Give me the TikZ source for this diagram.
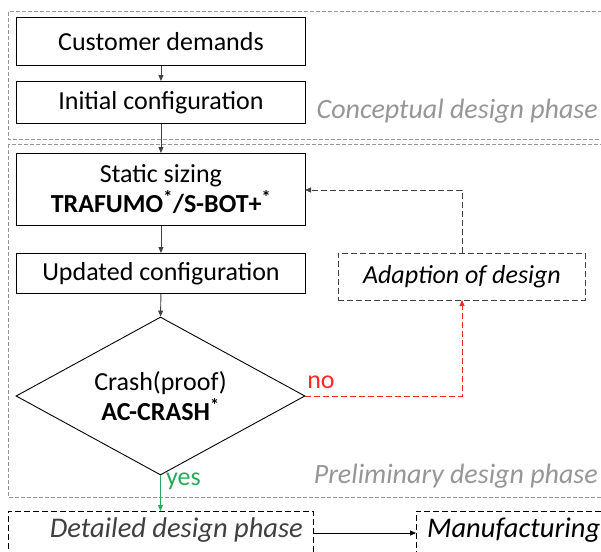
\documentclass[tikz,border=0pt]{standalone}
\usepackage{fontspec}
\setmainfont{Carlito}
\usetikzlibrary{arrows.meta,shapes.geometric}
\definecolor{phasegray}{RGB}{150,150,150}
\definecolor{darkgray2}{RGB}{64,64,64}
\definecolor{nored}{RGB}{255,40,40}
\definecolor{yesgreen}{RGB}{40,170,90}
\tikzset{
  x=1pt,y=-1pt,
  mainfont/.style={font=\fontsize{26}{30}\selectfont},
  box/.style={draw,line width=0.9pt,minimum width=289pt,anchor=north west,inner sep=0pt,align=center,mainfont},
  phase/.style={draw=phasegray,line width=1pt,dash pattern=on 4pt off 2pt},
  phaselabel/.style={text=phasegray,font=\fontsize{28}{30}\selectfont\itshape,anchor=east,inner sep=0pt},
  dbox/.style={draw,line width=0.9pt,dash pattern=on 6pt off 3pt},
  arr/.style={line width=0.9pt,draw=darkgray2,-{Triangle[length=6pt,width=5pt]}},
}
\begin{document}
\begin{tikzpicture}
\clip (0,0) rectangle (601,551);
\useasboundingbox (0,0) rectangle (601,551);
% phases
\draw[phase] (8,12) rectangle (640,139);
\node[phaselabel] (cdp) at (598,111) {Conceptual design phase};
\draw[phase] (8,144) rectangle (640,497);
\node[phaselabel] (pdp) at (598,476) {Preliminary design phase};
% boxes
\node[box,minimum height=48pt] (cust) at (16,17) {Customer demands};
\node[box,minimum height=42pt] (init) at (16,81) {Initial configuration};
\node[box,minimum height=72pt] (stat) at (16,153) {Static sizing\\\textbf{TRAFUMO\textsuperscript{*}/S-BOT+\textsuperscript{*}}};
\node[box,minimum height=40pt] (upd) at (16,253) {Updated configuration};
\node[dbox,draw=darkgray2,minimum width=247pt,minimum height=47pt,anchor=north west,inner sep=0pt,font=\fontsize{26}{30}\selectfont\itshape] (adap) at (338,253) {Adaption of design};
\node[draw,line width=0.9pt,diamond,minimum width=289pt,minimum height=158pt,inner sep=0pt,aspect=1.83,align=center,mainfont] (crash) at (160.5,396) {Crash(proof)\\\textbf{AC-CRASH\textsuperscript{*}}};
% bottom boxes
\node[dbox,minimum width=305pt,minimum height=60pt,anchor=north west,inner sep=0pt] (det) at (8,511) {};
\node[text=darkgray2,font=\fontsize{28.5}{30}\selectfont\itshape,anchor=east,inner sep=0pt] (detl) at (303,530) {Detailed design phase};
\node[dbox,minimum width=220pt,minimum height=60pt,anchor=north west,inner sep=0pt] (man) at (416,511) {};
\node[font=\fontsize{28.5}{30}\selectfont\itshape,anchor=west,inner sep=0pt] (manl) at (427,530) {Manufacturing};
% arrows
\draw[arr] (cust.south) -- (init.north);
\draw[arr] (init.south) -- (stat.north);
\draw[arr] (stat.south) -- (upd.north);
\draw[arr] (upd.south) -- (crash.north);
\coordinate (ab) at (462,300);
\coordinate (at) at (462,253);
\coordinate (corner1) at (462,190);
\coordinate (sr) at (305,190);
\draw[arr,dash pattern=on 6pt off 3pt] (at) -- (corner1) -- (sr);
\coordinate (corner2) at (462,396);
\draw[line width=0.9pt,draw=nored,dash pattern=on 6pt off 3pt,-{Triangle[length=6pt,width=5pt]}] (crash.east) -- (corner2) -- (ab);
\node[text=nored,font=\fontsize{26}{30}\selectfont,anchor=center,inner sep=0pt] (no) at (321,382) {no};
\draw[line width=0.9pt,draw=yesgreen,-{Triangle[length=6pt,width=5pt]}] (crash.south) -- (det.north -| crash.south);
\node[text=yesgreen,font=\fontsize{26}{30}\selectfont,anchor=west,inner sep=0pt] (yes) at (166,481) {yes};
\coordinate (dr) at (313,533);
\coordinate (ml) at (416,533);
\draw[line width=0.9pt,-{Triangle[length=6pt,width=5pt]}] (dr) -- (ml);
\end{tikzpicture}
\end{document}
